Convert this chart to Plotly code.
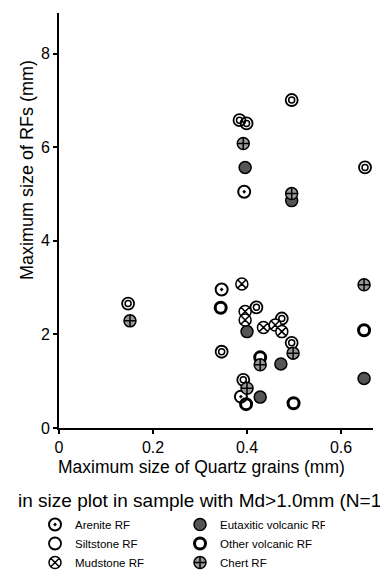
import plotly.graph_objects as go

# ---- data ----
arenite_x = [0.394, 0.346, 0.387]
arenite_y = [5.05, 2.96, 0.67]

siltstone_x = [0.495, 0.384, 0.399, 0.651, 0.147, 0.346, 0.420, 0.474, 0.495, 0.392]
siltstone_y = [7.01, 6.58, 6.51, 5.57, 2.66, 1.63, 2.58, 2.34, 1.82, 1.03]

mudstone_x = [0.389, 0.396, 0.396, 0.435, 0.460, 0.474]
mudstone_y = [3.08, 2.49, 2.31, 2.15, 2.20, 2.06]

eutaxitic_x = [0.396, 0.495, 0.400, 0.472, 0.428, 0.649]
eutaxitic_y = [5.57, 4.86, 2.06, 1.37, 0.66, 1.06]

other_x = [0.344, 0.428, 0.398, 0.499, 0.649]
other_y = [2.57, 1.51, 0.51, 0.53, 2.09]

chert_x = [0.392, 0.495, 0.151, 0.498, 0.428, 0.400, 0.649]
chert_y = [6.08, 5.01, 2.29, 1.60, 1.35, 0.85, 3.06]

x_ticks = [0, 0.2, 0.4, 0.6]
y_ticks = [0, 2, 4, 6, 8]

FONT = "Liberation Sans, Arial, Helvetica, sans-serif"
MS = 12

fig = go.Figure()

# legend order (horizontal, two per row): Arenite, Eutaxitic / Siltstone, Other / Mudstone, Chert
fig.add_trace(go.Scatter(x=arenite_x, y=arenite_y, mode="markers", name="Arenite RF",
                         marker=dict(symbol="circle-open-dot", size=MS, color="black",
                                     line=dict(width=2, color="black"))))
fig.add_trace(go.Scatter(x=eutaxitic_x, y=eutaxitic_y, mode="markers", name="Eutaxitic volcanic RF",
                         marker=dict(symbol="circle", size=MS, color="#555555",
                                     line=dict(width=1.5, color="black"))))
fig.add_trace(go.Scatter(x=siltstone_x, y=siltstone_y, mode="markers", name="Siltstone RF",
                         legendgroup="silt",
                         marker=dict(symbol="circle-open", size=MS, color="black",
                                     line=dict(width=1.8, color="black"))))
fig.add_trace(go.Scatter(x=other_x, y=other_y, mode="markers", name="Other volcanic RF",
                         marker=dict(symbol="circle-open", size=11, color="black",
                                     line=dict(width=3, color="black"))))
fig.add_trace(go.Scatter(x=mudstone_x, y=mudstone_y, mode="markers", name="Mudstone RF",
                         marker=dict(symbol="circle-x", size=MS, color="white",
                                     line=dict(width=1.5, color="black"))))
fig.add_trace(go.Scatter(x=chert_x, y=chert_y, mode="markers", name="Chert RF",
                         marker=dict(symbol="circle-cross", size=MS, color="#9a9a9a",
                                     line=dict(width=1.5, color="black"))))
# inner ring of siltstone symbol
fig.add_trace(go.Scatter(x=siltstone_x, y=siltstone_y, mode="markers", name="Siltstone RF",
                         legendgroup="silt", showlegend=False,
                         marker=dict(symbol="circle-open", size=6, color="black",
                                     line=dict(width=1.5, color="black"))))

axis_common = dict(showline=True, linecolor="black", linewidth=2, mirror=False,
                   ticks="outside", ticklen=4, tickwidth=1.5, tickcolor="black",
                   showgrid=False, zeroline=False,
                   tickfont=dict(family=FONT, size=16, color="black"))

fig.update_layout(
    width=380, height=570,
    margin=dict(l=59, r=7, t=13, b=142, autoexpand=False),
    paper_bgcolor="white", plot_bgcolor="white",
    font=dict(family=FONT, color="black"),
    xaxis=dict(range=[0, 0.668], tickvals=x_ticks, ticktext=["0", "0.2", "0.4", "0.6"], **axis_common),
    yaxis=dict(range=[0, 8.87], tickvals=y_ticks, ticktext=[str(v) for v in y_ticks], **axis_common),
    showlegend=True,
    legend=dict(orientation="h", x=-0.0764, xanchor="left", y=-0.1976, yanchor="top",
                entrywidth=100, entrywidthmode="pixels", tracegroupgap=0,
                font=dict(family=FONT, size=11.5, color="black"),
                bgcolor="rgba(0,0,0,0)", itemclick=False),
    annotations=[
        dict(text="Maximum size of Quartz grains (mm)", xref="paper", yref="paper",
             x=0.455, y=-0.094, xanchor="center", yanchor="middle", showarrow=False,
             font=dict(family=FONT, size=17.5, color="black")),
        dict(text="Maximum size of RFs (mm)", xref="paper", yref="paper",
             x=-0.102, y=0.6217, xanchor="center", yanchor="middle", textangle=-90,
             showarrow=False, font=dict(family=FONT, size=18, color="black")),
        dict(text="in size plot in sample with Md>1.0mm (N=1", xref="paper", yref="paper",
             x=-0.137, y=-0.1735, xanchor="left", yanchor="middle", showarrow=False,
             font=dict(family=FONT, size=19, color="black")),
    ],
)

fig.write_html("out.html")
